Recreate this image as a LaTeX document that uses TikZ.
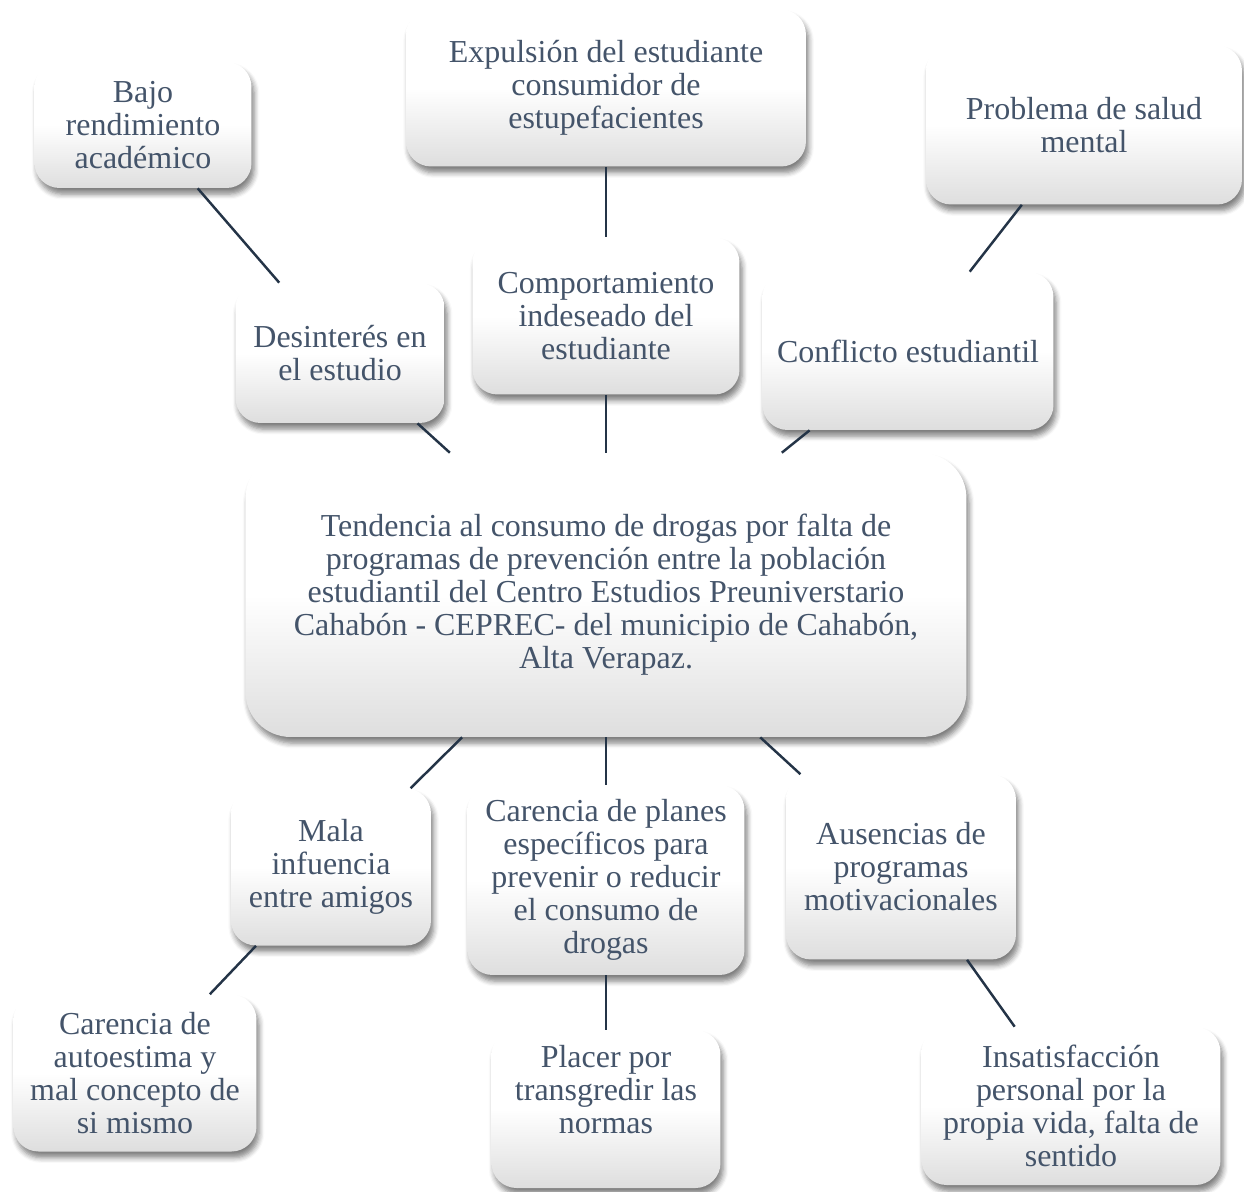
\documentclass[tikz,border=0pt]{standalone}
\usepackage{fontspec}
\setmainfont{Liberation Serif}
\usepackage{tikz}
\usetikzlibrary{positioning, shadows.blur}
\definecolor{textblue}{HTML}{44546A}
\definecolor{linkblue}{HTML}{243447}

\begin{document}
\begin{tikzpicture}[x=0.02cm, y=-0.02cm,
    box/.style={rounded corners=0.5cm, align=center, inner sep=0pt,
        top color=white, bottom color=black!13, middle color=white,
        text=textblue, font=\fontsize{18.2}{18.8}\selectfont,
        blur shadow={shadow xshift=1.5pt, shadow yshift=-3.5pt, shadow blur steps=5, shadow blur radius=3pt, shadow opacity=50}},
    link/.style={draw=linkblue, line width=1.4pt}]
    \useasboundingbox (0,0) rectangle (1244,1191);

    % Define nodes
    \node [box, rounded corners=0.9cm, minimum width=14.42cm, minimum height=5.68cm] (Tendencia) at (606,595)
        {Tendencia al consumo de drogas por falta de\\programas de prevención entre la población\\estudiantil del Centro Estudios Preuniverstario\\Cahabón - CEPREC- del municipio de Cahabón,\\Alta Verapaz.};

    \node [box, minimum width=4.34cm, minimum height=2.52cm] (Bajo) at (143,125) {Bajo\\rendimiento\\académico};
    \node [box, minimum width=8cm, minimum height=3.14cm] (Expulsion) at (606,88) {Expulsión del estudiante\\consumidor de\\estupefacientes};
    \node [box, minimum width=6.32cm, minimum height=3.18cm] (Salud) at (1084,125) {Problema de salud\\mental};

    \node [box, minimum width=4.18cm, minimum height=2.8cm] (Desinteres) at (340,353) {Desinterés en\\el estudio};
    \node [box, minimum width=5.34cm, minimum height=3.14cm] (Comport) at (606,316) {Comportamiento\\indeseado del\\estudiante};
    \node [box, minimum width=5.82cm, minimum height=3.16cm] (Conflicto) at (908,351) {Conflicto estudiantil};

    \node [box, minimum width=4cm, minimum height=3.14cm] (Mala) at (331,867) {Mala\\infuencia\\entre amigos};
    \node [box, minimum width=5.54cm, minimum height=3.8cm] (Planes) at (606,880) {Carencia de planes\\específicos para\\prevenir o reducir\\el consumo de\\drogas};
    \node [box, minimum width=4.6cm, minimum height=3.7cm] (Ausencias) at (901,867) {Ausencias de\\programas\\motivacionales};

    \node [box, minimum width=4.86cm, minimum height=3.14cm] (Autoestima) at (135,1073) {Carencia de\\autoestima y\\mal concepto de\\si mismo};
    \node [box, minimum width=4.58cm, minimum height=3.16cm] (Placer) at (606,1109) {Placer por\\transgredir las\\normas\\[4pt]\mbox{}};
    \node [box, minimum width=5.98cm, minimum height=3.16cm] (Insatis) at (1071,1106) {Insatisfacción\\personal por la\\propia vida, falta de\\sentido};

    % Lines above the central node
    \draw[link] (Bajo) -- (Desinteres);
    \draw[link] (Desinteres) -- (Tendencia);
    \draw[link] (Expulsion) -- (Comport);
    \draw[link] (Comport) -- (Tendencia);
    \draw[link] (Salud) -- (Conflicto);
    \draw[link] (Conflicto) -- (Tendencia);

    % Lines below the central node
    \draw[link] (Tendencia) -- (Mala);
    \draw[link] (Tendencia) -- (Planes);
    \draw[link] (Tendencia) -- (Ausencias);
    \draw[link] (Mala) -- (Autoestima);
    \draw[link] (Planes) -- (Placer);
    \draw[link] (Ausencias) -- (Insatis);
\end{tikzpicture}
\end{document}
